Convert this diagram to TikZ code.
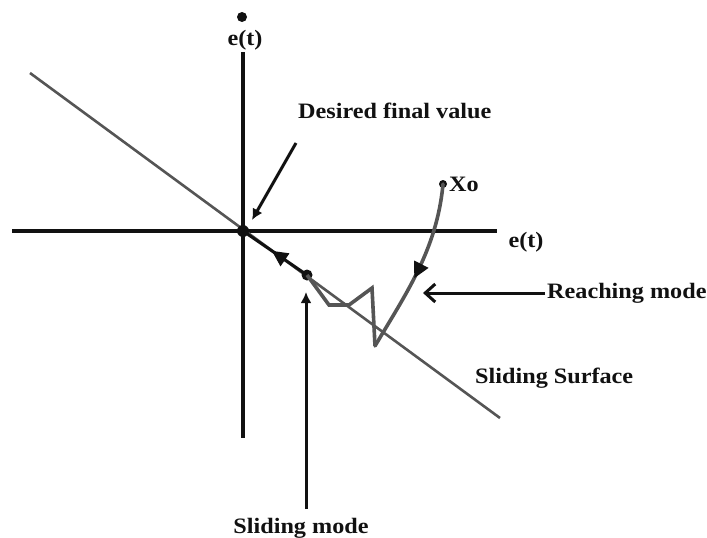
\documentclass[tikz,border=0pt]{standalone}
\usepackage{fontspec}
\setmainfont{Liberation Serif}
\usetikzlibrary{arrows.meta,decorations.markings}
\definecolor{lgray}{HTML}{555555}
\definecolor{dk}{HTML}{111111}
\begin{document}
\begin{tikzpicture}[x=1pt,y=-1pt,
  lbl/.style={inner sep=0pt,font=\fontsize{22}{24}\selectfont\bfseries,xscale=1.1,text=dk},
  axis/.style={draw=dk,line width=3.6pt},
  surface/.style={draw=lgray,line width=2.6pt},
  traj/.style={draw=lgray,line width=3.6pt,line join=miter},
  pointer/.style={draw=dk,line width=3pt},
  dotc/.style={circle,fill=dk,inner sep=0pt}]
\useasboundingbox (0,0) rectangle (707,538);
% axes
\coordinate (vtop) at (243,52);
\coordinate (vbot) at (243,438);
\coordinate (hl) at (12,231);
\coordinate (hr) at (497,231);
\draw[axis] (vtop) -- (vbot);
\draw[axis] (hl) -- (hr);
% sliding surface
\coordinate (sA) at (30,73);
\coordinate (sB) at (500,418);
\draw[surface] (sA) -- (sB);
% nodes
\node[dotc,minimum size=12pt] (odot) at (243,231) {};
\node[dotc,minimum size=10pt] (tdot) at (242,17) {};
\node[dotc,minimum size=11pt] (sdot) at (307,275) {};
\node[dotc,minimum size=8pt] (xdot) at (443,184) {};
\node[lbl] (ettop) at (245,40) {e(t)};
\node[lbl] (etr) at (526,242) {e(t)};
\node[lbl,anchor=west] (dfv) at (298,111) {Desired final value};
\node[lbl,anchor=west] (xo) at (449,184) {Xo};
\node[lbl,anchor=west] (reach) at (547,293) {Reaching mode};
\node[lbl,anchor=west] (surf) at (475,378) {Sliding Surface};
\node[lbl] (slm) at (301,528) {Sliding mode};
% sliding-mode segment with arrow
\draw[draw=dk,line width=3pt,
  postaction={decorate},
  decoration={markings,mark=at position 0.55 with {\arrow[dk]{Triangle[length=16pt,width=15pt]}}}]
  (sdot.center) -- (odot.center);
% trajectory
\coordinate (z1) at (329,305);
\coordinate (z2) at (349,305);
\coordinate (z3) at (372,288);
\coordinate (z4) at (375,346);
\draw[traj] (sdot.center) -- (z1) -- (z2) -- (z3) -- (z4);
\draw[traj,line cap=round,postaction={decorate},
  decoration={markings,mark=at position 0.56 with {\arrow[dk]{Triangle[length=16pt,width=15pt]}}}]
  (xdot.center) .. controls (437,250) and (405,295) .. (z4);
% pointer arrows
\coordinate (dstart) at (296,143);
\coordinate (dend) at (252,220);
\draw[pointer,-{Latex[length=11pt,width=11pt]}] (dstart) -- (dend);
\coordinate (rstart) at (545,293);
\coordinate (rend) at (423,293);
\draw[pointer,-{Straight Barb[length=10pt,width=18pt,line width=3pt]}] (rstart) -- (rend);
\coordinate (mstart) at (306,509);
\coordinate (mend) at (306,292);
\draw[pointer,-{Latex[length=11pt,width=11pt]}] (mstart) -- (mend);
\end{tikzpicture}
\end{document}
